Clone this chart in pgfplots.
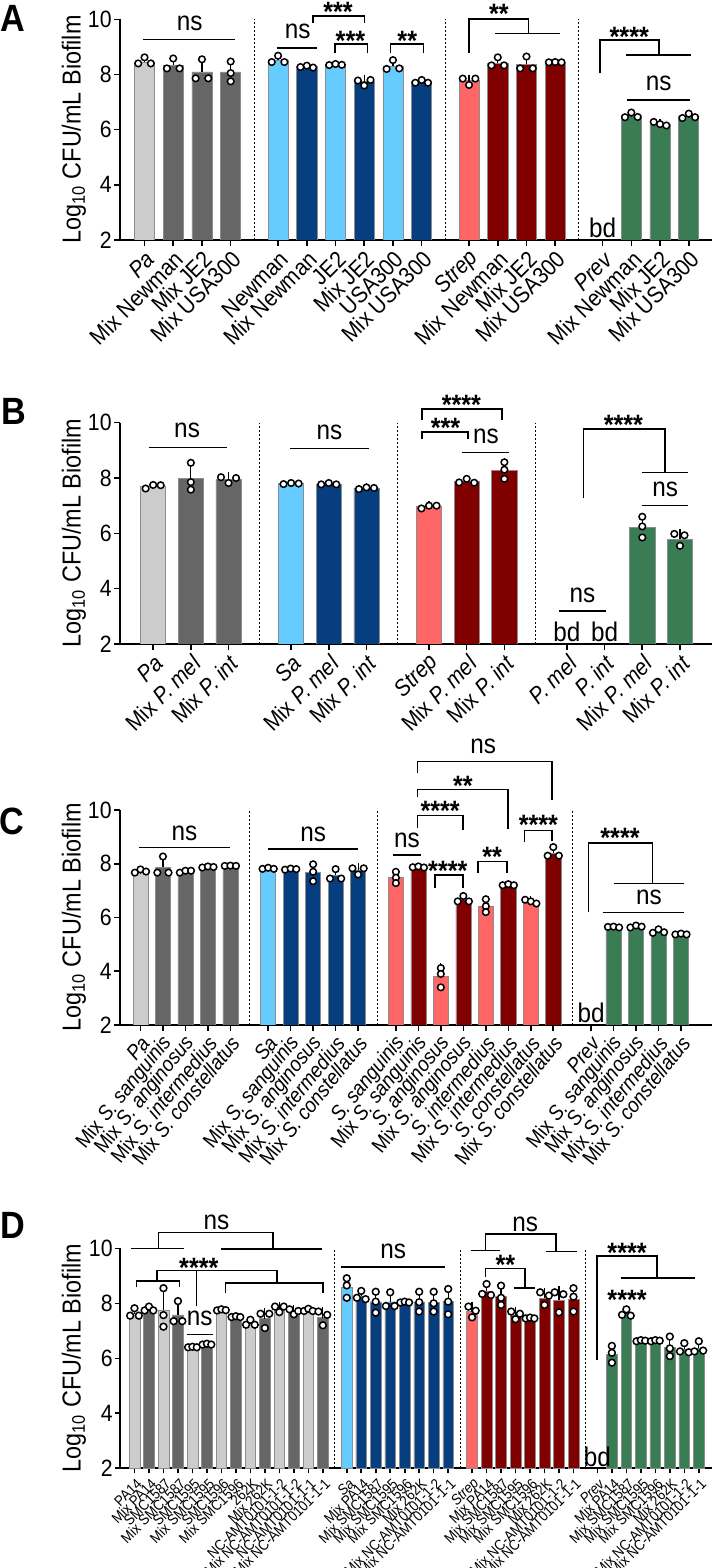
\documentclass[border=0pt]{standalone}
\usepackage{fontspec}
\setmainfont{Liberation Sans}[FakeStretch=0.9]
\usepackage{pgfplots}
\pgfplotsset{compat=1.18}
\definecolor{lg}{HTML}{CCCCCC}
\definecolor{dg}{HTML}{666666}
\definecolor{lb}{HTML}{66CCFF}
\definecolor{db}{HTML}{063E80}
\definecolor{sa}{HTML}{FF6666}
\definecolor{dr}{HTML}{800000}
\definecolor{gr}{HTML}{3A7D55}
\newcommand{\fs}[1]{\fontsize{#1}{#1}\selectfont}
\pgfplotsset{
  panel/.style={scale only axis, clip mode=individual, ymin=2, ymax=10, ytick={2,4,6,8,10},
    axis x line*=bottom, axis y line*=left, axis line style={line width=0.8pt,-},
    every tick/.style={black, line width=0.8pt}, tick align=outside, major tick length=3pt,
    /pgf/number format/assume math mode=true,
    yticklabel style={font=\fs{11.8}, inner sep=1pt},
    ylabel={Log\textsubscript{10} CFU/mL Biofilm},
    ylabel style={at={(axis description cs:-0.078,0.5)}, anchor=center, font=\fs{13}},
    xticklabel style={rotate=45, anchor=east, inner sep=1pt, yshift=-5.5pt}},
  barplot/.style={ybar, bar shift=0pt, draw=black!45, line width=0.3pt, fill=#1,
    error bars/.cd, y dir=plus, y explicit,
    error bar style={line width=0.6pt, black},
    error mark options={line width=0.6pt, black, mark size=1.8pt}},
  pts/.style={only marks, mark=*, mark size=1.65pt, mark options={fill=white, draw=black, line width=0.75pt}},
}
\tikzset{
  sig/.style={line width=0.8pt, black},
  divider/.style={line width=0.45pt, dash pattern=on 1pt off 1pt},
  stars/.style={anchor=base, yshift=-8pt, font=\bfseries\fs{14}, inner sep=0pt},
  nst/.style={anchor=base, yshift=-3.5pt, font=\fs{13.5}, inner sep=0pt},
  bd/.style={anchor=base, font=\fs{13.5}, inner sep=0pt},
  letter/.style={font=\bfseries\fs{19}},
}
\begin{document}
\begin{tikzpicture}
\useasboundingbox (0,0) rectangle (356.5pt,784pt);
\node[letter] at (6.5pt,774.75pt) {A};
\node[letter] at (7pt,578.5pt) {B};
\node[letter] at (6pt,373.5pt) {C};
\node[letter] at (6.5pt,171.5pt) {D};

% ---------------- Panel A ----------------
\begin{axis}[panel, at={(60pt,664pt)}, anchor=south west, width=296pt, height=110.35pt,
  xmin=-0.854, xmax=19.76, bar width=0.7,
  xtick={0,1,2,3,4.65,5.65,6.65,7.65,8.65,9.65,11.3,12.3,13.3,14.3,15.95,16.95,17.95,18.95},
  xticklabels={\textit{Pa},Mix Newman,Mix JE2,Mix USA300,Newman,Mix Newman,JE2,Mix JE2,USA300,Mix USA300,\textit{Strep},Mix Newman,Mix JE2,Mix USA300,\textit{Prev},Mix Newman,Mix JE2,Mix USA300},
  xticklabel style={font=\fs{11.6}}]
\addplot[barplot=lg] coordinates {(0,8.45) +- (0,0.12)};
\addplot[barplot=dg] coordinates {(1,8.33) +- (0,0.22) (2,8.09) +- (0,0.42) (3,8.09) +- (0,0.37)};
\addplot[barplot=lb] coordinates {(4.65,8.52) +- (0,0.14) (6.65,8.36) +- (0,0.04) (8.65,8.31) +- (0,0.2)};
\addplot[barplot=db] coordinates {(5.65,8.28) +- (0,0.04) (7.65,7.74) +- (0,0.1) (9.65,7.74) +- (0,0.06)};
\addplot[barplot=sa] coordinates {(11.3,7.78) +- (0,0.08)};
\addplot[barplot=dr] coordinates {(12.3,8.41) +- (0,0.2) (13.3,8.37) +- (0,0.25) (14.3,8.44) +- (0,0.02)};
\addplot[barplot=gr] coordinates {(16.95,6.51) +- (0,0.08) (17.95,6.21) +- (0,0.06) (18.95,6.48) +- (0,0.08)};
\addplot[pts] coordinates {
 (-0.22,8.40) (0,8.62) (0.22,8.40)
 (0.78,8.22) (1,8.58) (1.22,8.22)
 (1.78,7.86) (2,8.55) (2.22,7.86)
 (3,8.47) (3,8.05) (3,7.75)
 (4.43,8.45) (4.65,8.68) (4.87,8.45)
 (5.43,8.27) (5.65,8.32) (5.87,8.25)
 (6.43,8.34) (6.65,8.38) (6.87,8.35)
 (7.43,7.78) (7.65,7.6) (7.87,7.8)
 (8.43,8.2) (8.65,8.52) (8.87,8.22)
 (9.43,7.7) (9.65,7.8) (9.87,7.7)
 (11.08,7.85) (11.3,7.62) (11.52,7.85)
 (12.08,8.33) (12.3,8.62) (12.52,8.33)
 (13.08,8.22) (13.3,8.65) (13.52,8.22)
 (14.08,8.44) (14.3,8.45) (14.52,8.44)
 (16.73,6.45) (16.95,6.62) (17.17,6.46)
 (17.73,6.28) (17.95,6.2) (18.17,6.15)
 (18.73,6.42) (18.95,6.58) (19.17,6.45)};
\draw[divider] (axis cs:3.825,2) -- (axis cs:3.825,10);
\draw[divider] (axis cs:10.475,2) -- (axis cs:10.475,10);
\draw[divider] (axis cs:15.125,2) -- (axis cs:15.125,10);
\draw[sig] (axis cs:-0.05,9.27) -- (axis cs:3.15,9.27);
\node[nst] at (axis cs:1.57,9.85) {ns};
\draw[sig] (axis cs:4.6,8.97) -- (axis cs:6.0,8.97);
\node[nst] at (axis cs:5.33,9.55) {ns};
\draw[sig] (axis cs:5.87,9.85) |- (axis cs:7.66,10.13) -- (axis cs:7.66,9.85);
\node[stars] at (axis cs:6.74,10.5) {***};
\draw[sig] (axis cs:6.63,8.79) |- (axis cs:7.77,9.1) -- (axis cs:7.77,8.79);
\node[stars] at (axis cs:7.17,9.46) {***};
\draw[sig] (axis cs:8.57,8.79) |- (axis cs:9.72,9.1) -- (axis cs:9.72,8.79);
\node[stars] at (axis cs:9.15,9.46) {**};
\draw[sig] (axis cs:11.29,8.79) |- (axis cs:13.37,10.01) -- (axis cs:13.37,9.49);
\draw[sig] (axis cs:12.21,9.49) -- (axis cs:14.48,9.49);
\node[stars] at (axis cs:12.34,10.43) {**};
\draw[sig] (axis cs:15.85,8.04) |- (axis cs:17.91,9.25) -- (axis cs:17.91,8.71);
\draw[sig] (axis cs:16.76,8.71) -- (axis cs:19.02,8.71);
\node[stars] at (axis cs:16.88,9.61) {****};
\draw[sig] (axis cs:16.8,7.08) -- (axis cs:19.0,7.08);
\node[nst] at (axis cs:17.9,7.66) {ns};
\node[bd] at (axis cs:15.95,2.1) {bd};
\end{axis}

% ---------------- Panel B ----------------
\begin{axis}[panel, at={(60pt,462pt)}, anchor=south west, width=296pt, height=110.65pt,
  xmin=-0.88, xmax=14.83, bar width=0.67,
  xtick={0,1,2,3.66,4.66,5.66,7.32,8.32,9.32,10.98,11.98,12.98,13.98},
  xticklabels={\textit{Pa},Mix \textit{P. mel},Mix \textit{P. int},\textit{Sa},Mix \textit{P. mel},Mix \textit{P. int},\textit{Strep},Mix \textit{P. mel},Mix \textit{P. int},\textit{P. mel},\textit{P. int},Mix \textit{P. mel},Mix \textit{P. int}},
  xticklabel style={font=\fs{11.6}}]
\addplot[barplot=lg] coordinates {(0,7.71) +- (0,0.06)};
\addplot[barplot=dg] coordinates {(1,7.99) +- (0,0.55) (2,7.95) +- (0,0.12)};
\addplot[barplot=lb] coordinates {(3.66,7.8) +- (0,0.03)};
\addplot[barplot=db] coordinates {(4.66,7.79) +- (0,0.04) (5.66,7.64) +- (0,0.04)};
\addplot[barplot=sa] coordinates {(7.32,6.96) +- (0,0.07)};
\addplot[barplot=dr] coordinates {(8.32,7.88) +- (0,0.08) (9.32,8.28) +- (0,0.3)};
\addplot[barplot=gr] coordinates {(12.98,6.22) +- (0,0.38) (13.98,5.78) +- (0,0.24)};
\addplot[pts] coordinates {
 (-0.2,7.62) (0,7.75) (0.2,7.74)
 (1,8.55) (1,7.85) (1,7.58)
 (1.8,8.03) (2.0,7.82) (2.2,8.0)
 (3.46,7.78) (3.66,7.82) (3.86,7.8)
 (4.46,7.77) (4.66,7.82) (4.86,7.77)
 (5.46,7.6) (5.66,7.66) (5.86,7.64)
 (7.12,6.9) (7.32,7.0) (7.52,7.0)
 (8.12,7.84) (8.32,7.97) (8.52,7.83)
 (9.32,8.57) (9.32,8.3) (9.32,7.97)
 (12.98,6.6) (12.98,6.25) (12.98,5.85)
 (13.83,5.98) (14.1,5.93) (13.98,5.55)};
\draw[divider] (axis cs:2.83,2) -- (axis cs:2.83,10);
\draw[divider] (axis cs:6.49,2) -- (axis cs:6.49,10);
\draw[divider] (axis cs:10.15,2) -- (axis cs:10.15,10);
\draw[sig] (axis cs:-0.12,9.11) -- (axis cs:1.96,9.11);
\node[nst] at (axis cs:0.9,9.7) {ns};
\draw[sig] (axis cs:3.63,9.06) -- (axis cs:5.73,9.06);
\node[nst] at (axis cs:4.68,9.65) {ns};
\draw[sig] (axis cs:7.14,10.1) |- (axis cs:9.25,10.49) -- (axis cs:9.25,10.1);
\node[stars] at (axis cs:8.18,10.88) {****};
\draw[sig] (axis cs:7.14,9.4) |- (axis cs:8.36,9.67) -- (axis cs:8.36,9.4);
\node[stars] at (axis cs:7.76,10.04) {***};
\draw[sig] (axis cs:8.2,8.92) -- (axis cs:9.45,8.92);
\node[nst] at (axis cs:8.83,9.49) {ns};
\draw[sig] (axis cs:11.42,7.27) |- (axis cs:13.59,9.78) -- (axis cs:13.59,8.2);
\draw[sig] (axis cs:12.96,8.2) -- (axis cs:14.2,8.2);
\node[stars] at (axis cs:12.48,10.16) {****};
\draw[sig] (axis cs:12.96,7.0) -- (axis cs:14.2,7.0);
\node[nst] at (axis cs:13.59,7.57) {ns};
\draw[sig] (axis cs:10.76,3.2) -- (axis cs:12.03,3.2);
\node[nst] at (axis cs:11.39,3.77) {ns};
\node[bd] at (axis cs:10.98,2.1) {bd};
\node[bd] at (axis cs:11.98,2.1) {bd};
\end{axis}

% ---------------- Panel C ----------------
\begin{axis}[panel, at={(60pt,271.5pt)}, anchor=south west, width=296pt, height=107.5pt,
  xmin=-0.91, xmax=25.42, bar width=0.67,
  xtick={0,1,2,3,4,5.68,6.68,7.68,8.68,9.68,11.36,12.36,13.36,14.36,15.36,16.36,17.36,18.36,20.04,21.04,22.04,23.04,24.04},
  xticklabels={\textit{Pa},Mix \textit{S. sanguinis},Mix \textit{S. anginosus},Mix \textit{S. intermedius},Mix \textit{S. constellatus},\textit{Sa},Mix \textit{S. sanguinis},Mix \textit{S. anginosus},Mix \textit{S. intermedius},Mix \textit{S. constellatus},\textit{S. sanguinis},Mix \textit{S. sanguinis},\textit{S. anginosus},Mix \textit{S. anginosus},\textit{S. intermedius},Mix \textit{S. intermedius},\textit{S. constellatus},Mix \textit{S. constellatus},\textit{Prev},Mix \textit{S. sanguinis},Mix \textit{S. anginosus},Mix \textit{S. intermedius},Mix \textit{S. constellatus}},
  xticklabel style={font=\fs{10.5}, rotate=6, yshift=1pt}]
\addplot[barplot=lg] coordinates {(0,7.71) +- (0,0.05)};
\addplot[barplot=dg] coordinates {(1,7.87) +- (0,0.38) (2,7.71) +- (0,0.05) (3,7.86) +- (0,0.03) (4,7.92) +- (0,0.02)};
\addplot[barplot=lb] coordinates {(5.68,7.83) +- (0,0.03)};
\addplot[barplot=db] coordinates {(6.68,7.8) +- (0,0.03) (7.68,7.67) +- (0,0.3) (8.68,7.57) +- (0,0.22) (9.68,7.77) +- (0,0.12)};
\addplot[barplot=sa] coordinates {(11.36,7.48) +- (0,0.2) (13.36,3.81) +- (0,0.37) (15.36,6.43) +- (0,0.24) (17.36,6.59) +- (0,0.07)};
\addplot[barplot=dr] coordinates {(12.36,7.88) +- (0,0.03) (14.36,6.67) +- (0,0.12) (16.36,7.21) +- (0,0.03) (18.36,8.4) +- (0,0.2)};
\addplot[barplot=gr] coordinates {(21.04,5.64) +- (0,0.02) (22.04,5.66) +- (0,0.04) (23.04,5.48) +- (0,0.07) (24.04,5.38) +- (0,0.02)};
\addplot[pts] coordinates {
 (-0.25,7.67) (0,7.79) (0.25,7.71)
 (0.75,7.67) (1,8.27) (1.25,7.67)
 (1.75,7.67) (2,7.74) (2.25,7.74)
 (2.75,7.86) (3,7.9) (3.25,7.88)
 (3.75,7.92) (4,7.93) (4.25,7.92)
 (5.43,7.81) (5.68,7.85) (5.93,7.81)
 (6.43,7.78) (6.68,7.82) (6.93,7.8)
 (7.68,7.98) (7.68,7.7) (7.68,7.35)
 (8.43,7.45) (8.68,7.8) (8.93,7.45)
 (9.43,7.83) (9.68,7.6) (9.93,7.83)
 (11.36,7.7) (11.36,7.48) (11.36,7.28)
 (12.11,7.87) (12.36,7.9) (12.61,7.86)
 (13.36,4.12) (13.36,3.9) (13.36,3.4)
 (14.11,6.6) (14.36,6.8) (14.61,6.6)
 (15.36,6.68) (15.36,6.42) (15.36,6.2)
 (16.11,7.2) (16.36,7.24) (16.61,7.2)
 (17.11,6.66) (17.36,6.6) (17.61,6.52)
 (18.11,8.3) (18.36,8.62) (18.61,8.3)
 (20.79,5.65) (21.04,5.66) (21.29,5.63)
 (21.79,5.63) (22.04,5.7) (22.29,5.66)
 (22.79,5.43) (23.04,5.56) (23.29,5.45)
 (23.79,5.37) (24.04,5.4) (24.29,5.37)};
\draw[divider] (axis cs:4.84,2) -- (axis cs:4.84,10);
\draw[divider] (axis cs:10.52,2) -- (axis cs:10.52,10);
\draw[divider] (axis cs:19.2,2) -- (axis cs:19.2,10);
\draw[sig] (axis cs:-0.06,8.6) -- (axis cs:3.98,8.6);
\node[nst] at (axis cs:1.96,9.13) {ns};
\draw[sig] (axis cs:5.66,8.54) -- (axis cs:9.68,8.54);
\node[nst] at (axis cs:7.68,9.07) {ns};
\draw[sig] (axis cs:11.23,8.33) -- (axis cs:12.47,8.33);
\node[nst] at (axis cs:11.85,8.88) {ns};
\draw[sig] (axis cs:12.32,9.34) |- (axis cs:14.34,9.79) -- (axis cs:14.34,9.26);
\node[stars] at (axis cs:13.33,10.19) {****};
\draw[sig] (axis cs:12.32,10.5) |- (axis cs:16.34,10.77) -- (axis cs:16.34,9.28);
\node[stars] at (axis cs:14.34,11.15) {**};
\draw[sig] (axis cs:12.32,11.39) |- (axis cs:18.3,11.8) -- (axis cs:18.3,10.37);
\node[nst] at (axis cs:15.24,12.36) {ns};
\draw[sig] (axis cs:13.09,7.11) |- (axis cs:14.34,7.58) -- (axis cs:14.34,7.11);
\node[stars] at (axis cs:13.67,7.96) {****};
\draw[sig] (axis cs:15.02,7.65) |- (axis cs:16.31,8.08) -- (axis cs:16.31,7.65);
\node[stars] at (axis cs:15.64,8.49) {**};
\draw[sig] (axis cs:17.08,8.82) |- (axis cs:18.3,9.23) -- (axis cs:18.3,8.86);
\node[stars] at (axis cs:17.7,9.67) {****};
\draw[sig] (axis cs:19.93,6.19) |- (axis cs:22.78,8.78) -- (axis cs:22.78,7.27);
\draw[sig] (axis cs:21.05,7.27) -- (axis cs:24.18,7.27);
\node[stars] at (axis cs:21.33,9.19) {****};
\draw[sig] (axis cs:20.55,6.18) -- (axis cs:24.18,6.18);
\node[nst] at (axis cs:22.62,6.74) {ns};
\node[bd] at (axis cs:20.04,2.1) {bd};
\end{axis}

% ---------------- Panel D ----------------
\begin{axis}[panel, at={(60pt,49.85pt)}, anchor=south west, width=296pt, height=110pt,
  xmin=-1.0, xmax=39.86, bar width=0.74,
  xtick={0,1,2,3,4,5,6,7,8,9,10,11,12,13,14.65,15.65,16.65,17.65,18.65,19.65,20.65,21.65,23.3,24.3,25.3,26.3,27.3,28.3,29.3,30.3,31.95,32.95,33.95,34.95,35.95,36.95,37.95,38.95},
  xticklabels={PA14,Mix PA14,SMC1587,Mix SMC1587,SMC1595,Mix SMC1595,SMC1596,Mix SMC1596,262K,Mix 262K,NC-AMT0101-1-2,Mix NC-AMT0101-1-2,NC-AMT0101-1-1,Mix NC-AMT0101-1-1,\textit{Sa},Mix PA14,Mix SMC1587,Mix SMC1595,Mix SMC1596,Mix 262K,Mix NC-AMT0101-1-2,Mix NC-AMT0101-1-1,\textit{Strep},Mix PA14,Mix SMC1587,Mix SMC1595,Mix SMC1596,Mix 262K,Mix NC-AMT0101-1-2,Mix NC-AMT0101-1-1,\textit{Prev},Mix PA14,Mix SMC1587,Mix SMC1595,Mix SMC1596,Mix 262K,Mix NC-AMT0101-1-2,Mix NC-AMT0101-1-1},
  xticklabel style={font=\fs{7.4}, yshift=1pt}, major tick length=2.5pt]
\addplot[barplot=lg] coordinates {(0,7.62) +- (0,0.15) (2,7.76) +- (0,0.7) (4,6.41) +- (0,0.02) (6,7.76) +- (0,0.02) (8,7.27) +- (0,0.1) (10,7.8) +- (0,0.1) (12,7.73) +- (0,0.05)};
\addplot[barplot=dg] coordinates {(1,7.78) +- (0,0.08) (3,7.58) +- (0,0.43) (5,6.51) +- (0,0.02) (7,7.51) +- (0,0.02) (9,7.44) +- (0,0.25) (11,7.7) +- (0,0.09) (13,7.48) +- (0,0.25)};
\addplot[barplot=lb] coordinates {(14.65,8.57) +- (0,0.35)};
\addplot[barplot=db] coordinates {(15.65,8.26) +- (0,0.2) (16.65,8.05) +- (0,0.38) (17.65,8.05) +- (0,0.28) (18.65,8.04) +- (0,0.02) (19.65,8.05) +- (0,0.36) (20.65,8.04) +- (0,0.36) (21.65,8.06) +- (0,0.46)};
\addplot[barplot=sa] coordinates {(23.3,7.7) +- (0,0.2)};
\addplot[barplot=dr] coordinates {(24.3,8.43) +- (0,0.22) (25.3,8.25) +- (0,0.36) (26.3,7.58) +- (0,0.15) (27.3,7.46) +- (0,0.02) (28.3,8.19) +- (0,0.24) (29.3,8.11) +- (0,0.38) (30.3,8.15) +- (0,0.4)};
\addplot[barplot=gr] coordinates {(32.95,6.15) +- (0,0.3) (33.95,7.62) +- (0,0.12) (34.95,6.64) +- (0,0.02) (35.95,6.64) +- (0,0.02) (36.95,6.39) +- (0,0.36) (37.95,6.33) +- (0,0.18) (38.95,6.37) +- (0,0.2)};
\addplot[pts, mark size=1.7pt] coordinates {
 (-0.3,7.55) (0,7.82) (0.3,7.55)
 (0.7,7.74) (1,7.88) (1.3,7.74)
 (2,8.55) (2,7.57) (2,7.15)
 (2.7,7.35) (3,8.08) (3.3,7.35)
 (3.7,6.4) (4,6.42) (4.3,6.4)
 (4.7,6.5) (5,6.53) (5.3,6.5)
 (5.7,7.74) (6,7.78) (6.3,7.75)
 (6.7,7.5) (7,7.53) (7.3,7.5)
 (7.7,7.22) (8,7.4) (8.3,7.22)
 (8.7,7.62) (9,7.1) (9.3,7.62)
 (9.7,7.88) (10,7.68) (10.3,7.88)
 (10.7,7.78) (11,7.6) (11.3,7.72)
 (11.7,7.72) (12,7.8) (12.3,7.72)
 (12.7,7.7) (13.3,7.58) (13,7.2)
 (14.65,8.91) (14.65,8.65) (14.65,8.2)
 (15.65,8.45) (15.35,8.2) (15.95,8.15)
 (16.65,8.42) (16.65,8.06) (16.65,7.66)
 (17.65,8.4) (17.35,7.9) (17.95,7.9)
 (18.35,8.03) (18.65,8.06) (18.95,8.03)
 (19.65,8.42) (19.65,8.04) (19.65,7.7)
 (20.65,8.42) (20.65,8.0) (20.65,7.7)
 (21.65,8.52) (21.65,8.06) (21.65,7.6)
 (23.05,7.88) (23.55,7.73) (23.3,7.49)
 (24.3,8.7) (24.0,8.34) (24.6,8.3)
 (25.3,8.64) (25.3,8.2) (25.3,7.94)
 (26.0,7.7) (26.6,7.62) (26.3,7.42)
 (27.0,7.45) (27.3,7.48) (27.6,7.45)
 (28.0,8.4) (28.6,8.28) (28.3,7.94)
 (29.0,8.4) (29.6,8.33) (29.3,7.67)
 (30.3,8.55) (30.3,8.24) (30.3,7.7)
 (32.95,6.45) (32.95,6.2) (32.95,5.84)
 (33.95,7.78) (33.65,7.58) (34.25,7.55)
 (34.65,6.62) (34.95,6.66) (35.25,6.64)
 (35.65,6.62) (35.95,6.66) (36.25,6.64)
 (36.95,6.79) (36.95,6.36) (36.95,6.08)
 (37.95,6.55) (37.65,6.25) (38.25,6.22)
 (38.95,6.62) (38.65,6.25) (39.25,6.28)};
\draw[divider] (axis cs:13.825,2) -- (axis cs:13.825,10);
\draw[divider] (axis cs:22.475,2) -- (axis cs:22.475,10);
\draw[divider] (axis cs:31.125,2) -- (axis cs:31.125,10);
\draw[sig] (axis cs:-0.24,10.0) -- (axis cs:3.45,10.0);
\draw[sig] (axis cs:1.66,10.0) -- (axis cs:1.66,10.58) -- (axis cs:9.57,10.58) -- (axis cs:9.57,9.97);
\draw[sig] (axis cs:6.0,9.97) -- (axis cs:12.97,9.97);
\node[nst] at (axis cs:5.66,10.93) {ns};
\draw[sig] (axis cs:0.14,8.58) |- (axis cs:3.12,8.82) -- (axis cs:3.12,8.58);
\draw[sig] (axis cs:1.56,8.82) -- (axis cs:1.56,9.19) -- (axis cs:9.84,9.19) -- (axis cs:9.84,8.73);
\draw[sig] (axis cs:6.28,8.39) |- (axis cs:13.01,8.73) -- (axis cs:13.01,8.39);
\draw[sig] (axis cs:4.28,9.19) -- (axis cs:4.28,7.9);
\node[stars] at (axis cs:4.44,9.51) {****};
\draw[sig] (axis cs:3.59,6.87) -- (axis cs:5.43,6.87);
\node[nst] at (axis cs:4.5,7.45) {ns};
\draw[sig] (axis cs:14.28,9.31) -- (axis cs:21.42,9.31);
\node[nst] at (axis cs:17.86,9.88) {ns};
\draw[sig] (axis cs:23.2,9.92) -- (axis cs:25.24,9.92);
\draw[sig] (axis cs:24.24,9.92) -- (axis cs:24.24,10.51) -- (axis cs:29.1,10.51) -- (axis cs:29.1,9.88);
\draw[sig] (axis cs:28.38,9.88) -- (axis cs:30.51,9.88);
\node[nst] at (axis cs:26.97,10.87) {ns};
\draw[sig] (axis cs:24.24,8.97) |- (axis cs:26.97,9.27) -- (axis cs:26.97,8.55);
\draw[sig] (axis cs:26.17,8.55) -- (axis cs:27.65,8.55);
\node[stars] at (axis cs:25.6,9.64) {**};
\draw[sig] (axis cs:31.92,5.94) |- (axis cs:36.08,9.72) -- (axis cs:36.08,8.93);
\draw[sig] (axis cs:33.55,8.93) -- (axis cs:38.66,8.93);
\node[stars] at (axis cs:34.0,10.06) {****};
\node[stars] at (axis cs:34.0,8.34) {****};
\node[bd] at (axis cs:31.95,2.05) {bd};
\end{axis}
\end{tikzpicture}
\end{document}
